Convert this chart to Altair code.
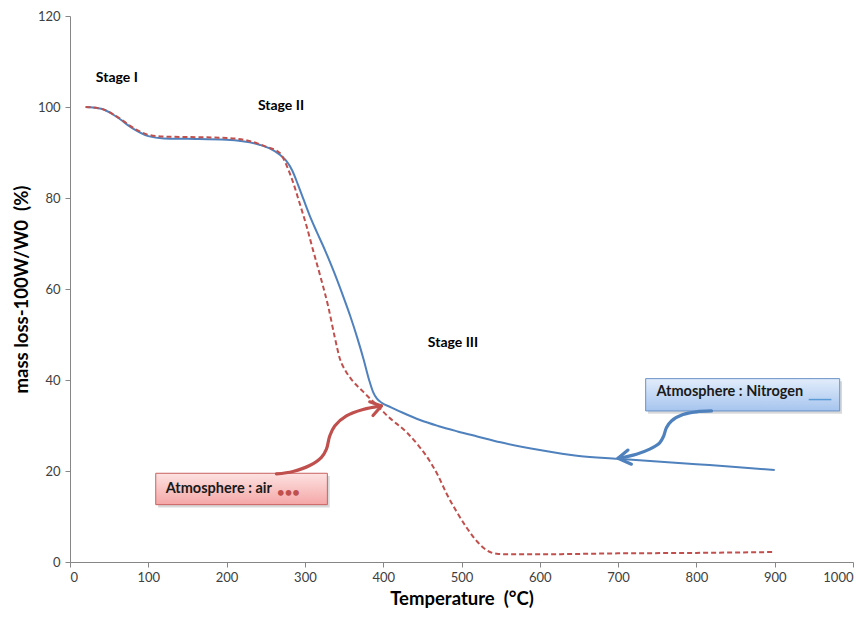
import altair as alt
import pandas as pd

# ---- data ----
n2_temp = [20, 40, 60, 80, 100, 120, 150, 200, 242, 255, 268, 276, 284, 291, 298, 306, 315, 326,
           337, 348, 358, 367, 375, 382, 387, 392, 398, 410, 425, 447, 470, 495, 520, 550, 600,
           650, 700, 750, 800, 850, 900]
n2_mass = [100, 99.6, 97.8, 95.3, 93.6, 93.1, 93.0, 92.8, 91.7, 90.9, 89.5, 88.2, 86.0, 83.0,
           79.8, 76.2, 72.6, 68.4, 63.8, 58.8, 54.0, 49.2, 44.5, 40.0, 37.4, 35.9, 35.0, 34.0,
           32.8, 31.2, 29.9, 28.7, 27.6, 26.3, 24.6, 23.3, 22.7, 22.1, 21.5, 20.9, 20.2]

air_temp = [20, 40, 60, 80, 100, 120, 150, 200, 230, 250, 268, 277, 285, 293, 302, 310, 321, 330,
            338, 345, 352, 360, 374, 391, 408, 430, 445, 459, 470, 481, 494, 506, 520, 532, 545,
            557, 600, 700, 800, 900]
air_mass = [100, 99.6, 97.9, 95.5, 93.9, 93.5, 93.4, 93.2, 92.5, 91.3, 89.9, 87.0, 83.4, 79.0,
            73.9, 68.8, 62.0, 56.0, 49.5, 44.5, 42.0, 40.0, 37.5, 34.6, 31.7, 28.5, 25.6, 22.3,
            19.0, 15.0, 11.0, 7.7, 4.5, 2.6, 1.8, 1.7, 1.7, 1.9, 2.0, 2.2]

x_ticks = [0, 100, 200, 300, 400, 500, 600, 700, 800, 900, 1000]
y_ticks = [0, 20, 40, 60, 80, 100, 120]

stage_labels = ["Stage I", "Stage II", "Stage III"]
stage_x = [33, 240, 457]
stage_y = [106.3, 100.3, 48.2]

# annotation callouts (in data units)
air_box = dict(x=109.5, x2=328.7, y=19.5, y2=12.6)
n2_box = dict(x=735.2, x2=983.0, y=40.3, y2=33.2)
air_arrow_x = [263.6, 284.8, 306.1, 321.1, 327.5, 331.7, 338.1, 353.0, 374.2, 397.7]
air_arrow_y = [19.35, 19.9, 21.2, 23.0, 24.8, 27.7, 29.9, 32.1, 33.5, 34.3]
air_head_x = [382.8, 397.7, 387.0]
air_head_y = [35.2, 34.3, 32.2]
n2_arrow_x = [819.2, 800.0, 782.9, 768.1, 761.7, 758.2, 753.1, 740.4, 723.4, 699.9]
n2_arrow_y = [33.2, 33.0, 32.4, 31.0, 29.5, 27.7, 26.2, 24.8, 23.7, 22.8]
n2_head_x = [712.6, 699.9, 717.0]
n2_head_y = [24.6, 22.8, 21.5]

BLUE = "#4F81BD"
RED = "#C0504D"
FONT = "Lato"

xs = alt.Scale(domain=[0, 1000], nice=False, zero=False)
ys = alt.Scale(domain=[0, 120], nice=False)

n2_df = pd.DataFrame({"t": n2_temp, "m": n2_mass})
air_df = pd.DataFrame({"t": air_temp, "m": air_mass})

x_enc = alt.X("t:Q", scale=xs, axis=alt.Axis(values=x_ticks, title="Temperature\u00a0 (°C)", format="d"))
y_enc = alt.Y("m:Q", scale=ys, axis=alt.Axis(values=y_ticks, title="mass loss-100W/W0\u00a0 (%)", format="d"))

n2_line = alt.Chart(n2_df).mark_line(color=BLUE, strokeWidth=2, interpolate="monotone").encode(x=x_enc, y=y_enc)
air_line = alt.Chart(air_df).mark_line(color=RED, strokeWidth=2, strokeDash=[5, 3],
                                       interpolate="monotone").encode(x="t:Q", y="m:Q")

stages = alt.Chart(pd.DataFrame({"t": stage_x, "m": stage_y, "lab": stage_labels})).mark_text(
    align="left", baseline="middle", fontSize=14, fontWeight="bold", font=FONT, color="#000000"
).encode(x="t:Q", y="m:Q", text="lab:N")


def box_layers(b, fill_top, fill_bot, border):
    shadow = alt.Chart(pd.DataFrame([{"x": b["x"] + 3, "x2": b["x2"] + 3,
                                      "y": b["y"] - 0.6, "y2": b["y2"] - 0.6}])).mark_rect(
        color="#000000", opacity=0.15).encode(x="x:Q", x2="x2:Q", y="y:Q", y2="y2:Q")
    rect = alt.Chart(pd.DataFrame([b])).mark_rect(
        fill=alt.Gradient(gradient="linear", x1=0, y1=0, x2=0, y2=1,
                          stops=[alt.GradientStop(color=fill_top, offset=0),
                                 alt.GradientStop(color=fill_bot, offset=1)]),
        stroke=border, strokeWidth=1
    ).encode(x="x:Q", x2="x2:Q", y="y:Q", y2="y2:Q")
    return shadow + rect


air_box_l = box_layers(air_box, "#FDE2E2", "#F4A7A6", "#C9625F")
n2_box_l = box_layers(n2_box, "#E2EDFB", "#A6C4EE", "#6A93C6")

air_text = alt.Chart(pd.DataFrame({"t": [122.2], "m": [16.1], "lab": ["Atmosphere : air"]})).mark_text(
    align="left", baseline="middle", fontSize=14.5, fontWeight="bold", font=FONT, color="#1a1a1a"
).encode(x="t:Q", y="m:Q", text="lab:N")
air_dots = alt.Chart(pd.DataFrame({"t": [264.5], "m": [15.2], "lab": ["•••"]})).mark_text(
    align="left", baseline="middle", fontSize=13, fontWeight="bold", font=FONT, color=RED
).encode(x="t:Q", y="m:Q", text="lab:N")

n2_text = alt.Chart(pd.DataFrame({"t": [748.9], "m": [37.3], "lab": ["Atmosphere : Nitrogen"]})).mark_text(
    align="left", baseline="middle", fontSize=14.5, fontWeight="bold", font=FONT, color="#1a1a1a"
).encode(x="t:Q", y="m:Q", text="lab:N")
n2_dash = alt.Chart(pd.DataFrame({"t": [943.4], "t2": [972.4], "m": [35.7]})).mark_rule(
    color="#5B9BD5", strokeWidth=1.5).encode(x="t:Q", x2="t2:Q", y="m:Q")


def path_layer(xv, yv, color, width, interp):
    df = pd.DataFrame({"t": xv, "m": yv, "o": list(range(len(xv)))})
    return alt.Chart(df).mark_line(color=color, strokeWidth=width, interpolate=interp,
                                   strokeCap="round", strokeJoin="round").encode(
        x="t:Q", y="m:Q", order="o:Q")


air_arrow = path_layer(air_arrow_x, air_arrow_y, RED, 3.2, "catmull-rom")
air_head = path_layer(air_head_x, air_head_y, RED, 3.2, "linear")
n2_arrow = path_layer(n2_arrow_x, n2_arrow_y, BLUE, 3.2, "catmull-rom")
n2_head = path_layer(n2_head_x, n2_head_y, BLUE, 3.2, "linear")

chart = alt.layer(
    n2_line, air_line, stages,
    air_box_l, air_text, air_dots, air_arrow, air_head,
    n2_box_l, n2_text, n2_dash, n2_arrow, n2_head,
).properties(
    width=783, height=546,
    autosize=alt.AutoSizeParams(type="none"),
    padding={"left": 62, "top": 8, "right": 4, "bottom": 47},
).configure_view(stroke=None).configure_axis(
    grid=False, domainColor="#868686", tickColor="#868686", tickSize=5,
    labelFont=FONT, labelFontSize=13, labelColor="#404040",
    titleFont=FONT, titleFontSize=18.5, titleFontWeight="bold", titleColor="#000000",
).configure_axisX(labelPadding=4, titlePadding=5).configure_axisY(labelPadding=5, titlePadding=6)

chart.save("out.html", embed_options={"renderer": "svg", "actions": False})
